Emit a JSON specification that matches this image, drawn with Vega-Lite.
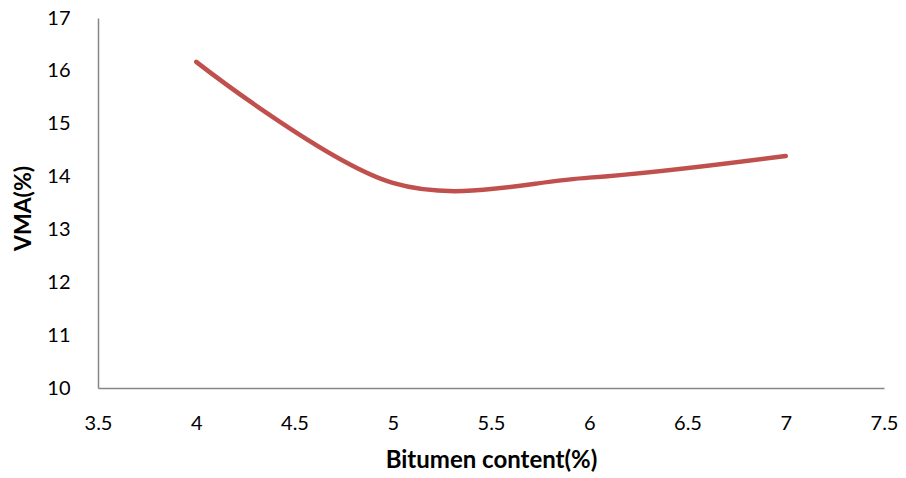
{
  "$schema": "https://vega.github.io/schema/vega-lite/v6.json",
  "autosize": "none",
  "width": 786,
  "height": 370,
  "padding": {"left": 98, "top": 18, "right": 22, "bottom": 90},
  "background": "white",
  "config": {
    "view": {"stroke": null},
    "font": "Lato"
  },
  "data": {
    "values": [
      {"bitumen": 4, "vma": 16.17},
      {"bitumen": 5, "vma": 13.88},
      {"bitumen": 6, "vma": 13.98},
      {"bitumen": 7, "vma": 14.39}
    ]
  },
  "mark": {"type": "line", "interpolate": "cardinal", "color": "#C0504D", "strokeWidth": 4.5, "strokeCap": "round"},
  "encoding": {
    "x": {
      "field": "bitumen",
      "type": "quantitative",
      "scale": {"domain": [3.5, 7.5], "nice": false, "zero": false},
      "axis": {
        "title": "Bitumen content(%)",
        "values": [3.5, 4, 4.5, 5, 5.5, 6, 6.5, 7, 7.5],
        "format": "~g",
        "grid": false,
        "ticks": false,
        "domainColor": "#868686",
        "domainWidth": 1.5,
        "labelFont": "Lato",
        "labelFontSize": 20,
        "labelColor": "#000000",
        "labelPadding": 25,
        "labelFlush": false,
        "titleFont": "Lato",
        "titleFontSize": 24,
        "titleFontWeight": "bold",
        "titleColor": "#000000",
        "titlePadding": 15
      }
    },
    "y": {
      "field": "vma",
      "type": "quantitative",
      "scale": {"domain": [10, 17], "nice": false, "zero": false},
      "axis": {
        "title": "VMA(%)",
        "values": [10, 11, 12, 13, 14, 15, 16, 17],
        "grid": false,
        "ticks": false,
        "domainColor": "#868686",
        "domainWidth": 1.5,
        "labelFont": "Lato",
        "labelFontSize": 20,
        "labelColor": "#000000",
        "labelPadding": 28,
        "labelFlush": false,
        "titleFont": "Lato",
        "titleFontSize": 23,
        "titleFontWeight": "bold",
        "titleColor": "#000000",
        "titlePadding": 11,
        "titleY": 190
      }
    }
  }
}
